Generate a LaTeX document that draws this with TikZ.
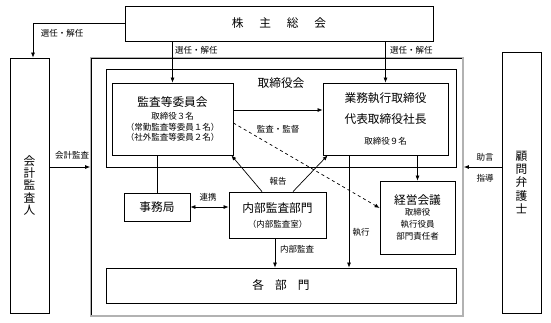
\documentclass[tikz,border=0pt]{standalone}
\usepackage{fontspec}
\setmainfont{Noto Sans CJK JP}
\usetikzlibrary{arrows.meta}
\newcommand{\sm}{\fontsize{8.5}{10.5}\selectfont}
\newcommand{\bg}{\fontsize{11.7}{15}\selectfont}

\begin{document}
\begin{tikzpicture}[x=1pt,y=-1pt,
  boxnode/.style={draw,line width=0.8pt,inner sep=0pt,align=center,font=\bg},
  lbl/.style={font=\sm,inner sep=0pt},
  conn/.style={-{Latex[length=5pt,width=4pt]},line width=0.7pt}]

\useasboundingbox (0,0) rectangle (551,322);

% Outer frame
\node[draw=gray!60,line width=1.8pt,minimum width=372pt,minimum height=258pt] (frame) at (277,187) {};
\draw[line width=0.6pt] ([shift={(1.5pt,1.5pt)}]frame.south west) |- ([shift={(-1.5pt,-1.5pt)}]frame.north east);

% Board
\node[draw,line width=0.8pt,minimum width=350pt,minimum height=98pt] (board) at (281,118) {};
\node[font=\bg] (boardlbl) at (281,83) {取締役会};

% Boxes
\node[boxnode,minimum width=308pt,minimum height=35pt] (kabu) at (279,23.5) {株\hspace{1.35em}主\hspace{1.35em}総\hspace{1.35em}会};
\node[boxnode,minimum width=39pt,minimum height=255pt,font=\fontsize{11.7}{12.3}\selectfont] (kaikei) at (29.5,185.5) {会\\計\\監\\査\\人};
\node[boxnode,minimum width=39pt,minimum height=261pt,font=\fontsize{11.7}{13.2}\selectfont] (komon) at (521.5,182.5) {顧\\問\\弁\\護\\士};
\node[boxnode,minimum width=121pt,minimum height=72pt,font=\sm] (kansa) at (172.5,119)
  {{\bg 監査等委員会}\\[3pt]取締役３名\\（常勤監査等委員１名）\\（社外監査等委員２名）};
\node[boxnode,minimum width=125pt,minimum height=72pt,font=\fontsize{11.7}{21}\selectfont] (gyomu) at (385.5,119)
  {業務執行取締役\\代表取締役社長\\{\sm 取締役９名}};
\node[boxnode,minimum width=75pt,minimum height=73pt,font=\fontsize{8.5}{12.2}\selectfont] (keiei) at (417.5,217.5)
  {{\bg 経営会議}\\[-1pt]取締役\\執行役員\\部門責任者};
\node[boxnode,minimum width=66pt,minimum height=28pt] (jimu) at (157,207) {事務局};
\node[boxnode,minimum width=97pt,minimum height=46pt] (naibu) at (277.5,215)
  {内部監査部門\\{\sm （内部監査室）}};
\node[boxnode,minimum width=350pt,minimum height=35pt] (kakubu) at (281,285.5) {各\hspace{0.95em}部\hspace{0.95em}門};

% Election
\draw[conn] (kabu.west) -| ([xshift=3.5pt]kaikei.north);
\node[lbl] (senA) at (62,33) {選任・解任};
\draw[conn] (kansa.north |- kabu.south) -- (kansa.north);
\node[lbl,anchor=west] (senB) at (175,50) {選任・解任};
\draw[conn] (gyomu.north |- kabu.south) -- (gyomu.north);
\node[lbl,anchor=west] (senC) at (390,50) {選任・解任};

% Audit and supervision
\draw[conn] ([yshift=9pt]kansa.east) -- ([yshift=9pt]kansa.east -| gyomu.west);
\node[lbl] (kantoku) at (278,129) {監査・監督};
\draw[conn,dashed] ([yshift=-4pt]kansa.east) -- ([yshift=9.5pt]keiei.west);

% Secretariat
\draw[line width=0.7pt] (jimu.north |- kansa.south) -- (jimu.north);
\draw[{Latex[length=5pt,width=4pt]}-{Latex[length=5pt,width=4pt]},line width=0.7pt] (jimu.east) -- (jimu.east -| naibu.west);
\node[lbl] (renkei) at (208,197) {連携};

% Report
\draw[conn] ([xshift=-15.5pt]naibu.north) -- ([xshift=-2pt]kansa.south east);
\draw[conn] ([xshift=15.5pt]naibu.north) -- ([xshift=5pt]gyomu.south west);
\node[lbl] (hokoku) at (278,181) {報告};

% Execution
\draw[conn] ([xshift=-36.5pt]gyomu.south) -- ([xshift=-36.5pt]gyomu.south |- kakubu.north);
\node[lbl] (shikko) at (361,232) {執行};
\draw[conn] (keiei.north |- gyomu.south) -- (keiei.north);
\draw[conn] ([xshift=-2.5pt]naibu.south) -- ([xshift=-2.5pt]naibu.south |- kakubu.north);
\node[lbl] (naibukansa) at (297,249) {内部監査};

% Outside
\draw[conn] ([yshift=18.5pt]kaikei.east) -- ([yshift=18.5pt]kaikei.east -| frame.west);
\node[lbl] (kaikeikansa) at (72,155) {会計監査};
\draw[conn] ([yshift=15.5pt]komon.west) -- ([yshift=15.5pt]komon.west -| frame.east);
\node[lbl] (jogen) at (485,157) {助言};
\node[lbl] (shido) at (485,178) {指導};

\end{tikzpicture}
\end{document}
